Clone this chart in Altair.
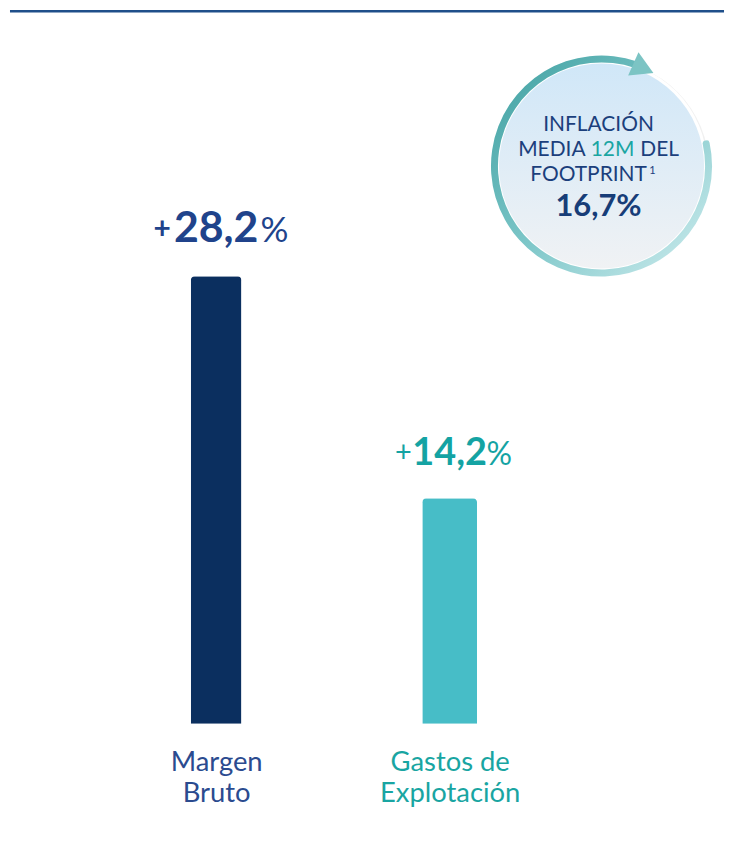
import altair as alt
import pandas as pd

# ---- data ----
categories = ["Margen Bruto", "Gastos de Explotación"]
values = [28.2, 14.2]
bar_colors = ["#0b2f5f", "#47bdc7"]
label_colors = ["#20438b", "#14a3a3"]
axis_colors = ["#2b4b8f", "#19a5a2"]
inflation_value = 16.7

df = pd.DataFrame({"category": categories, "value": values})

W, H = 718, 717
FONT = "Lato"

xenc = alt.X("category:N", sort=categories,
             scale=alt.Scale(type="point", domain=categories, range=[208, 442.5], padding=0),
             axis=alt.Axis(title=None, labelAngle=0, domain=False, ticks=False, grid=False,
                           labelFont=FONT, labelFontSize=27.5, labelLineHeight=31,
                           labelPadding=25,
                           labelExpr="[slice(datum.label, 0, lastindexof(datum.label, ' ')), slice(datum.label, lastindexof(datum.label, ' ') + 1)]",
                           labelColor=alt.expr(f"datum.value == '{categories[0]}' ? '{axis_colors[0]}' : '{axis_colors[1]}'")))
yenc = alt.Y("value:Q", scale=alt.Scale(domain=[0, 45], range=[H, 0]), axis=None)

base = alt.Chart(df).encode(x=xenc, y=yenc)

# per-category styling (widths / fonts)
bar_w = [51, 55]
num_size = [43, 38]
half_w = [41.5, 34]
plus_size = [30, 29]
plus_weight = ["bold", "normal"]
pct_size = [35, 32]

layers = []
for i, cat in enumerate(categories):
    sub = base.transform_filter(alt.datum.category == cat)
    layers.append(sub.mark_bar(width=bar_w[i], color=bar_colors[i],
                               cornerRadiusTopLeft=4, cornerRadiusTopRight=4))
    num = sub.transform_calculate(
        txt="replace(format(datum.value, '.1f'), '.', ',')")
    layers.append(num.mark_text(font=FONT, fontWeight="bold", fontSize=num_size[i],
                                color=label_colors[i], dy=-34, baseline="alphabetic")
                  .encode(text="txt:N"))
    layers.append(sub.mark_text(font=FONT, fontWeight=plus_weight[i], fontSize=plus_size[i],
                                color=label_colors[i], dy=-37, baseline="alphabetic",
                                align="right", dx=-(half_w[i] + 4), text="+"))
    layers.append(sub.mark_text(font=FONT, fontWeight="normal", fontSize=pct_size[i],
                                color=label_colors[i], dy=-34, baseline="alphabetic",
                                align="left", dx=half_w[i] + 3, text="%"))

one = alt.Data(values=[{"k": 1}])
CX, CY = 595, 157

# top rule
top_rule = alt.Chart(one).mark_rule(color="#1f4f8a", strokeWidth=2.5).encode(
    x=alt.value(1), x2=alt.value(W), y=alt.value(1.5))

shadow = alt.Chart(one).mark_arc(theta=0, theta2=6.2832, outerRadius=108, innerRadius=0,
                                 color="#000000", opacity=0.06).encode(
    x=alt.value(CX), y=alt.value(CY + 2))
white_rim = alt.Chart(one).mark_arc(theta=0, theta2=6.2832, outerRadius=106, innerRadius=0,
                                    color="#ffffff").encode(x=alt.value(CX), y=alt.value(CY))
disc = alt.Chart(one).mark_arc(
    theta=0, theta2=6.2832, outerRadius=103, innerRadius=0,
    fill=alt.Gradient(gradient="linear", x1=0, y1=0, x2=0, y2=1,
                      stops=[alt.GradientStop(offset=0, color="#d0e7f8"),
                             alt.GradientStop(offset=1, color="#f0f2f4")])
).encode(x=alt.value(CX), y=alt.value(CY))

ring = alt.Chart(one).mark_arc(
    theta=1.33, theta2=6.64, outerRadius=111, innerRadius=104, cornerRadius=3,
    fill=alt.Gradient(gradient="linear", x1=0, y1=0, x2=1, y2=1,
                      stops=[alt.GradientStop(offset=0, color="#3e9fa0"),
                             alt.GradientStop(offset=0.5, color="#7cc6c8"),
                             alt.GradientStop(offset=1, color="#d2eef0")])
).encode(x=alt.value(CX), y=alt.value(CY))

arrow = alt.Chart(one).mark_point(shape="triangle-right", filled=True, size=650,
                                  color="#7cc4c4", opacity=1, angle=24).encode(
    x=alt.value(637), y=alt.value(59))

def t(text, x, y, size=21, color="#1b3f7c", weight="normal", align="center"):
    return alt.Chart(one).mark_text(text=text, font=FONT, fontSize=size, color=color,
                                    fontWeight=weight, align=align,
                                    baseline="alphabetic").encode(x=alt.value(x), y=alt.value(y))

circle_texts = [
    t("INFLACIÓN", 592, 122),
    t("MEDIA", 579, 147, align="right"),
    t("12M", 606, 147, color="#19a5a2"),
    t("DEL", 634, 147, align="left"),
    t("FOOTPRINT", 582, 172),
    t("1", 643, 165, size=11, align="left"),
    t(f"{inflation_value:.1f}".replace(".", ",") + "%", 592, 207, size=31, weight="bold",
      color="#173d78"),
]

chart = alt.layer(top_rule, *layers, shadow, white_rim, disc, ring, arrow, *circle_texts).properties(
    width=W, height=H, padding=0, background="#ffffff"
).configure_view(strokeWidth=0)

chart.save("out.html", embed_options={"renderer": "svg", "actions": False})
